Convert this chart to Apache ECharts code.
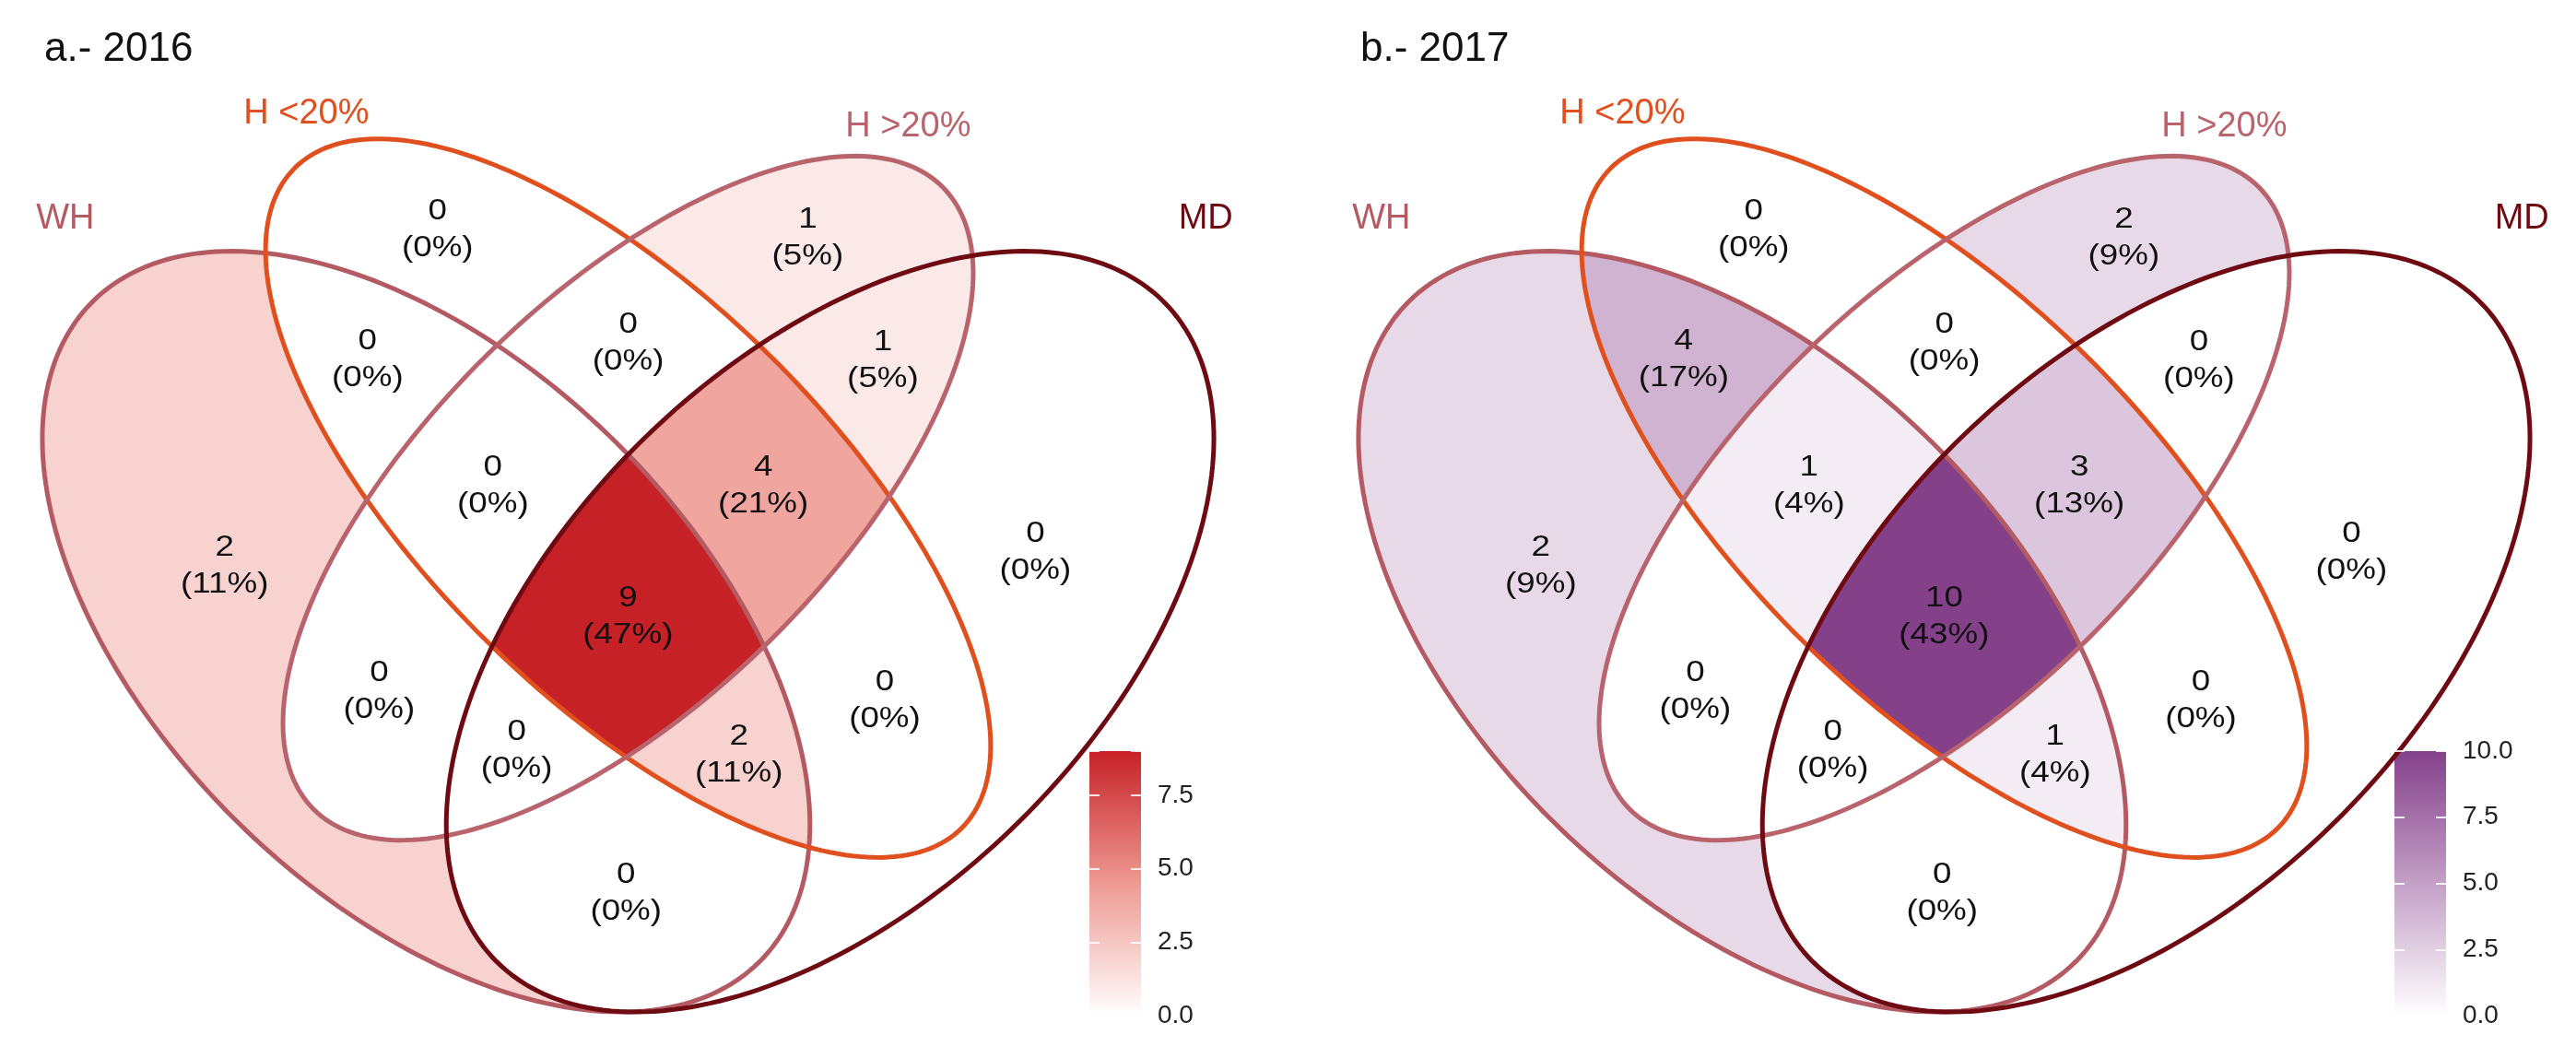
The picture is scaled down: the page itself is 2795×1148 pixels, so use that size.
<!DOCTYPE html>
<html>
<head>
<meta charset="utf-8">
<title>Venn 2016 / 2017</title>
<script src="https://cdn.jsdelivr.net/npm/echarts@6/dist/echarts.min.js"></script>
<style>
  html, body { margin: 0; padding: 0; background: #fff; }
  #main { width: 2795px; height: 1148px; }
</style>
</head>
<body>
<div id="main"></div>
<script>
// sets A..D and the 15 regions (letters = sets the region belongs to)
const setNames = ['WH', 'H <20%', 'H >20%', 'MD'];
const regionKeys = ['A', 'B', 'C', 'D', 'AB', 'AC', 'AD', 'BC', 'BD', 'CD', 'ABC', 'ABD', 'ACD', 'BCD', 'ABCD'];
const counts2016 = [2, 0, 1, 0, 0, 0, 0, 0, 0, 1, 0, 2, 0, 4, 9];
const counts2017 = [2, 0, 2, 0, 4, 0, 0, 0, 0, 0, 1, 1, 0, 3, 10];
const panelTitles = ['a.- 2016', 'b.- 2017'];

const FONT = 'Liberation Sans, Arial, sans-serif';
const setColors = ['#B45A63', '#E0501E', '#B9646D', '#6E0B12'];
const fillRamps = [
  ['#FFFFFF', '#EE9A93', '#C62127'],
  ['#FFFFFF', '#C3A0C6', '#84418A']
];

// ellipse shapes (cx, cy, a, b, rotation) as in the 4-set ggVennDiagram layout
const shapes = [
  [0.35, 0.47, 0.35, 0.20, 135],
  [0.50, 0.57, 0.35, 0.15, 135],
  [0.50, 0.57, 0.33, 0.15, 45],
  [0.65, 0.47, 0.35, 0.20, 45]
];
const setLabelPos = [[0.082, 0.779], [0.261, 0.858], [0.708, 0.848], [0.929, 0.779]];

function ellipsePts(s, n) {
  const r = s[4] * Math.PI / 180, c = Math.cos(r), sn = Math.sin(r);
  const pts = [];
  for (let i = 0; i < n; i++) {
    const t = 2 * Math.PI * i / n;
    const x = s[2] * Math.cos(t), y = s[3] * Math.sin(t);
    pts.push([s[0] + x * c - y * sn, s[1] + x * sn + y * c]);
  }
  return pts;
}
const ellipses = shapes.map(s => ellipsePts(s, 240));

function inside(s, x, y) {
  const r = s[4] * Math.PI / 180, c = Math.cos(r), sn = Math.sin(r);
  const dx = x - s[0], dy = y - s[1];
  const u = dx * c + dy * sn, v = -dx * sn + dy * c;
  return (u * u) / (s[2] * s[2]) + (v * v) / (s[3] * s[3]) <= 1;
}

// Sutherland-Hodgman, clip polygon is convex and counter-clockwise
function clip(subject, clipPoly) {
  let out = subject;
  for (let i = 0; i < clipPoly.length && out.length; i++) {
    const p1 = clipPoly[i], p2 = clipPoly[(i + 1) % clipPoly.length];
    const side = p => (p2[0] - p1[0]) * (p[1] - p1[1]) - (p2[1] - p1[1]) * (p[0] - p1[0]);
    const inp = out;
    out = [];
    for (let j = 0; j < inp.length; j++) {
      const cur = inp[j], prev = inp[(j + inp.length - 1) % inp.length];
      const sc = side(cur), sp = side(prev);
      if (sc >= 0) {
        if (sp < 0) out.push(cross(prev, cur, sp, sc));
        out.push(cur);
      } else if (sp >= 0) {
        out.push(cross(prev, cur, sp, sc));
      }
    }
  }
  return out;
}
function cross(p, q, sp, sq) {
  const t = sp / (sp - sq);
  return [p[0] + t * (q[0] - p[0]), p[1] + t * (q[1] - p[1])];
}

// polygon of the intersection of all sets named in a key
function keyPolygon(key) {
  let poly = ellipses[key.charCodeAt(0) - 65];
  for (let k = 1; k < key.length; k++) poly = clip(poly, ellipses[key.charCodeAt(k) - 65]);
  return poly;
}

// label anchor = centroid of each exact region, found by sampling
const centroids = (function () {
  const sum = {};
  regionKeys.forEach(k => { sum[k] = [0, 0, 0]; });
  const step = 0.0025;
  for (let x = 0; x <= 1; x += step) {
    for (let y = 0; y <= 1; y += step) {
      let key = '';
      for (let i = 0; i < 4; i++) if (inside(shapes[i], x, y)) key += String.fromCharCode(65 + i);
      if (sum[key]) { sum[key][0] += x; sum[key][1] += y; sum[key][2]++; }
    }
  }
  return regionKeys.map(k => [sum[k][0] / sum[k][2], sum[k][1] / sum[k][2]]);
})();

const panels = [
  { counts: counts2016, left: 46, cbarLeft: 1182 },
  { counts: counts2017, left: 1474, cbarLeft: 2598 }
];

const grid = [], xAxis = [], yAxis = [], series = [], visualMap = [], title = [];

panels.forEach((p, pi) => {
  const total = p.counts.reduce((a, b) => a + b, 0);
  const maxCount = Math.max.apply(null, p.counts);
  const ramp = fillRamps[pi];

  // venn grid
  const vg = grid.length, vx = xAxis.length, vy = yAxis.length;
  grid.push({ left: p.left, top: 151, width: 1271, height: 947 });
  xAxis.push({ gridIndex: vg, type: 'value', min: 0.065, max: 0.935, show: false });
  yAxis.push({ gridIndex: vg, type: 'value', min: 0.185, max: 0.839, show: false });

  title.push({
    text: panelTitles[pi], left: p.left + 2, top: 32, padding: 0,
    textStyle: { fontFamily: FONT, fontSize: 44, fontWeight: 'normal', color: '#111' }
  });

  const regionData = regionKeys.map((k, i) => [i, p.counts[i]]);

  visualMap.push({
    show: false, seriesIndex: series.length, dimension: 1,
    min: 0, max: maxCount, inRange: { color: ramp }
  });
  series.push({
    type: 'custom', name: 'regions' + pi, xAxisIndex: vx, yAxisIndex: vy, silent: true, z: 1,
    data: regionData,
    renderItem: function (params, api) {
      const poly = keyPolygon(regionKeys[api.value(0)]);
      return {
        type: 'polygon',
        shape: { points: poly.map(pt => api.coord(pt)) },
        style: { fill: api.visual('color'), stroke: null }
      };
    }
  });

  series.push({
    type: 'custom', name: 'outlines' + pi, xAxisIndex: vx, yAxisIndex: vy, silent: true, z: 3,
    data: setNames.map((n, i) => [i, 0]),
    renderItem: function (params, api) {
      const i = api.value(0);
      return {
        type: 'polygon',
        shape: { points: ellipses[i].map(pt => api.coord(pt)) },
        style: { fill: null, stroke: setColors[i], lineWidth: 5 }
      };
    }
  });

  series.push({
    type: 'custom', name: 'counts' + pi, xAxisIndex: vx, yAxisIndex: vy, silent: true, z: 5,
    data: regionData,
    renderItem: function (params, api) {
      const i = api.value(0), c = api.value(1);
      const pos = api.coord(centroids[i]);
      return {
        type: 'text', x: pos[0], y: pos[1], scaleX: 1.15,
        style: {
          text: c + '\n(' + Math.round(100 * c / total) + '%)',
          fontFamily: FONT, fontSize: 32, lineHeight: 40, fill: '#111',
          align: 'center', verticalAlign: 'middle'
        }
      };
    }
  });

  series.push({
    type: 'custom', name: 'sets' + pi, xAxisIndex: vx, yAxisIndex: vy, silent: true, z: 5,
    data: setNames.map((n, i) => [i, 0]),
    renderItem: function (params, api) {
      const i = api.value(0);
      const pos = api.coord(setLabelPos[i]);
      return {
        type: 'text', x: pos[0], y: pos[1],
        style: {
          text: setNames[i], fontFamily: FONT, fontSize: 38, fill: setColors[i],
          align: 'center', verticalAlign: 'middle'
        }
      };
    }
  });

  // colour bar legend
  const cg = grid.length, cx = xAxis.length, cy = yAxis.length;
  grid.push({ left: p.cbarLeft, top: 815, width: 56, height: 287 });
  xAxis.push({ gridIndex: cg, type: 'category', data: [''], show: false });
  const tickStyle = { show: true, inside: true, length: 11, lineStyle: { color: 'rgba(255,255,255,0.85)', width: 2 } };
  yAxis.push({
    gridIndex: cg, type: 'value', min: 0, max: maxCount, interval: 2.5, position: 'right', z: 5,
    axisLine: { show: false }, splitLine: { show: false }, axisTick: tickStyle,
    axisLabel: {
      margin: 18, fontFamily: FONT, fontSize: 28, color: '#222',
      formatter: v => (v % 2.5 === 0 ? v.toFixed(1) : '')
    }
  });
  yAxis.push({
    gridIndex: cg, type: 'value', min: 0, max: maxCount, interval: 2.5, position: 'left', z: 5,
    axisLine: { show: false }, splitLine: { show: false }, axisTick: tickStyle,
    axisLabel: { show: false }
  });
  series.push({
    type: 'bar', name: 'scale' + pi, xAxisIndex: cx, yAxisIndex: cy, silent: true,
    barWidth: '100%', data: [maxCount],
    itemStyle: {
      color: new echarts.graphic.LinearGradient(0, 1, 0, 0,
        ramp.map((c, k) => ({ offset: k / (ramp.length - 1), color: c })))
    }
  });
});

const chart = echarts.init(document.getElementById('main'));
chart.setOption({
  backgroundColor: '#FFFFFF',
  animation: false,
  title: title,
  grid: grid,
  xAxis: xAxis,
  yAxis: yAxis,
  visualMap: visualMap,
  series: series
});
</script>
</body>
</html>
